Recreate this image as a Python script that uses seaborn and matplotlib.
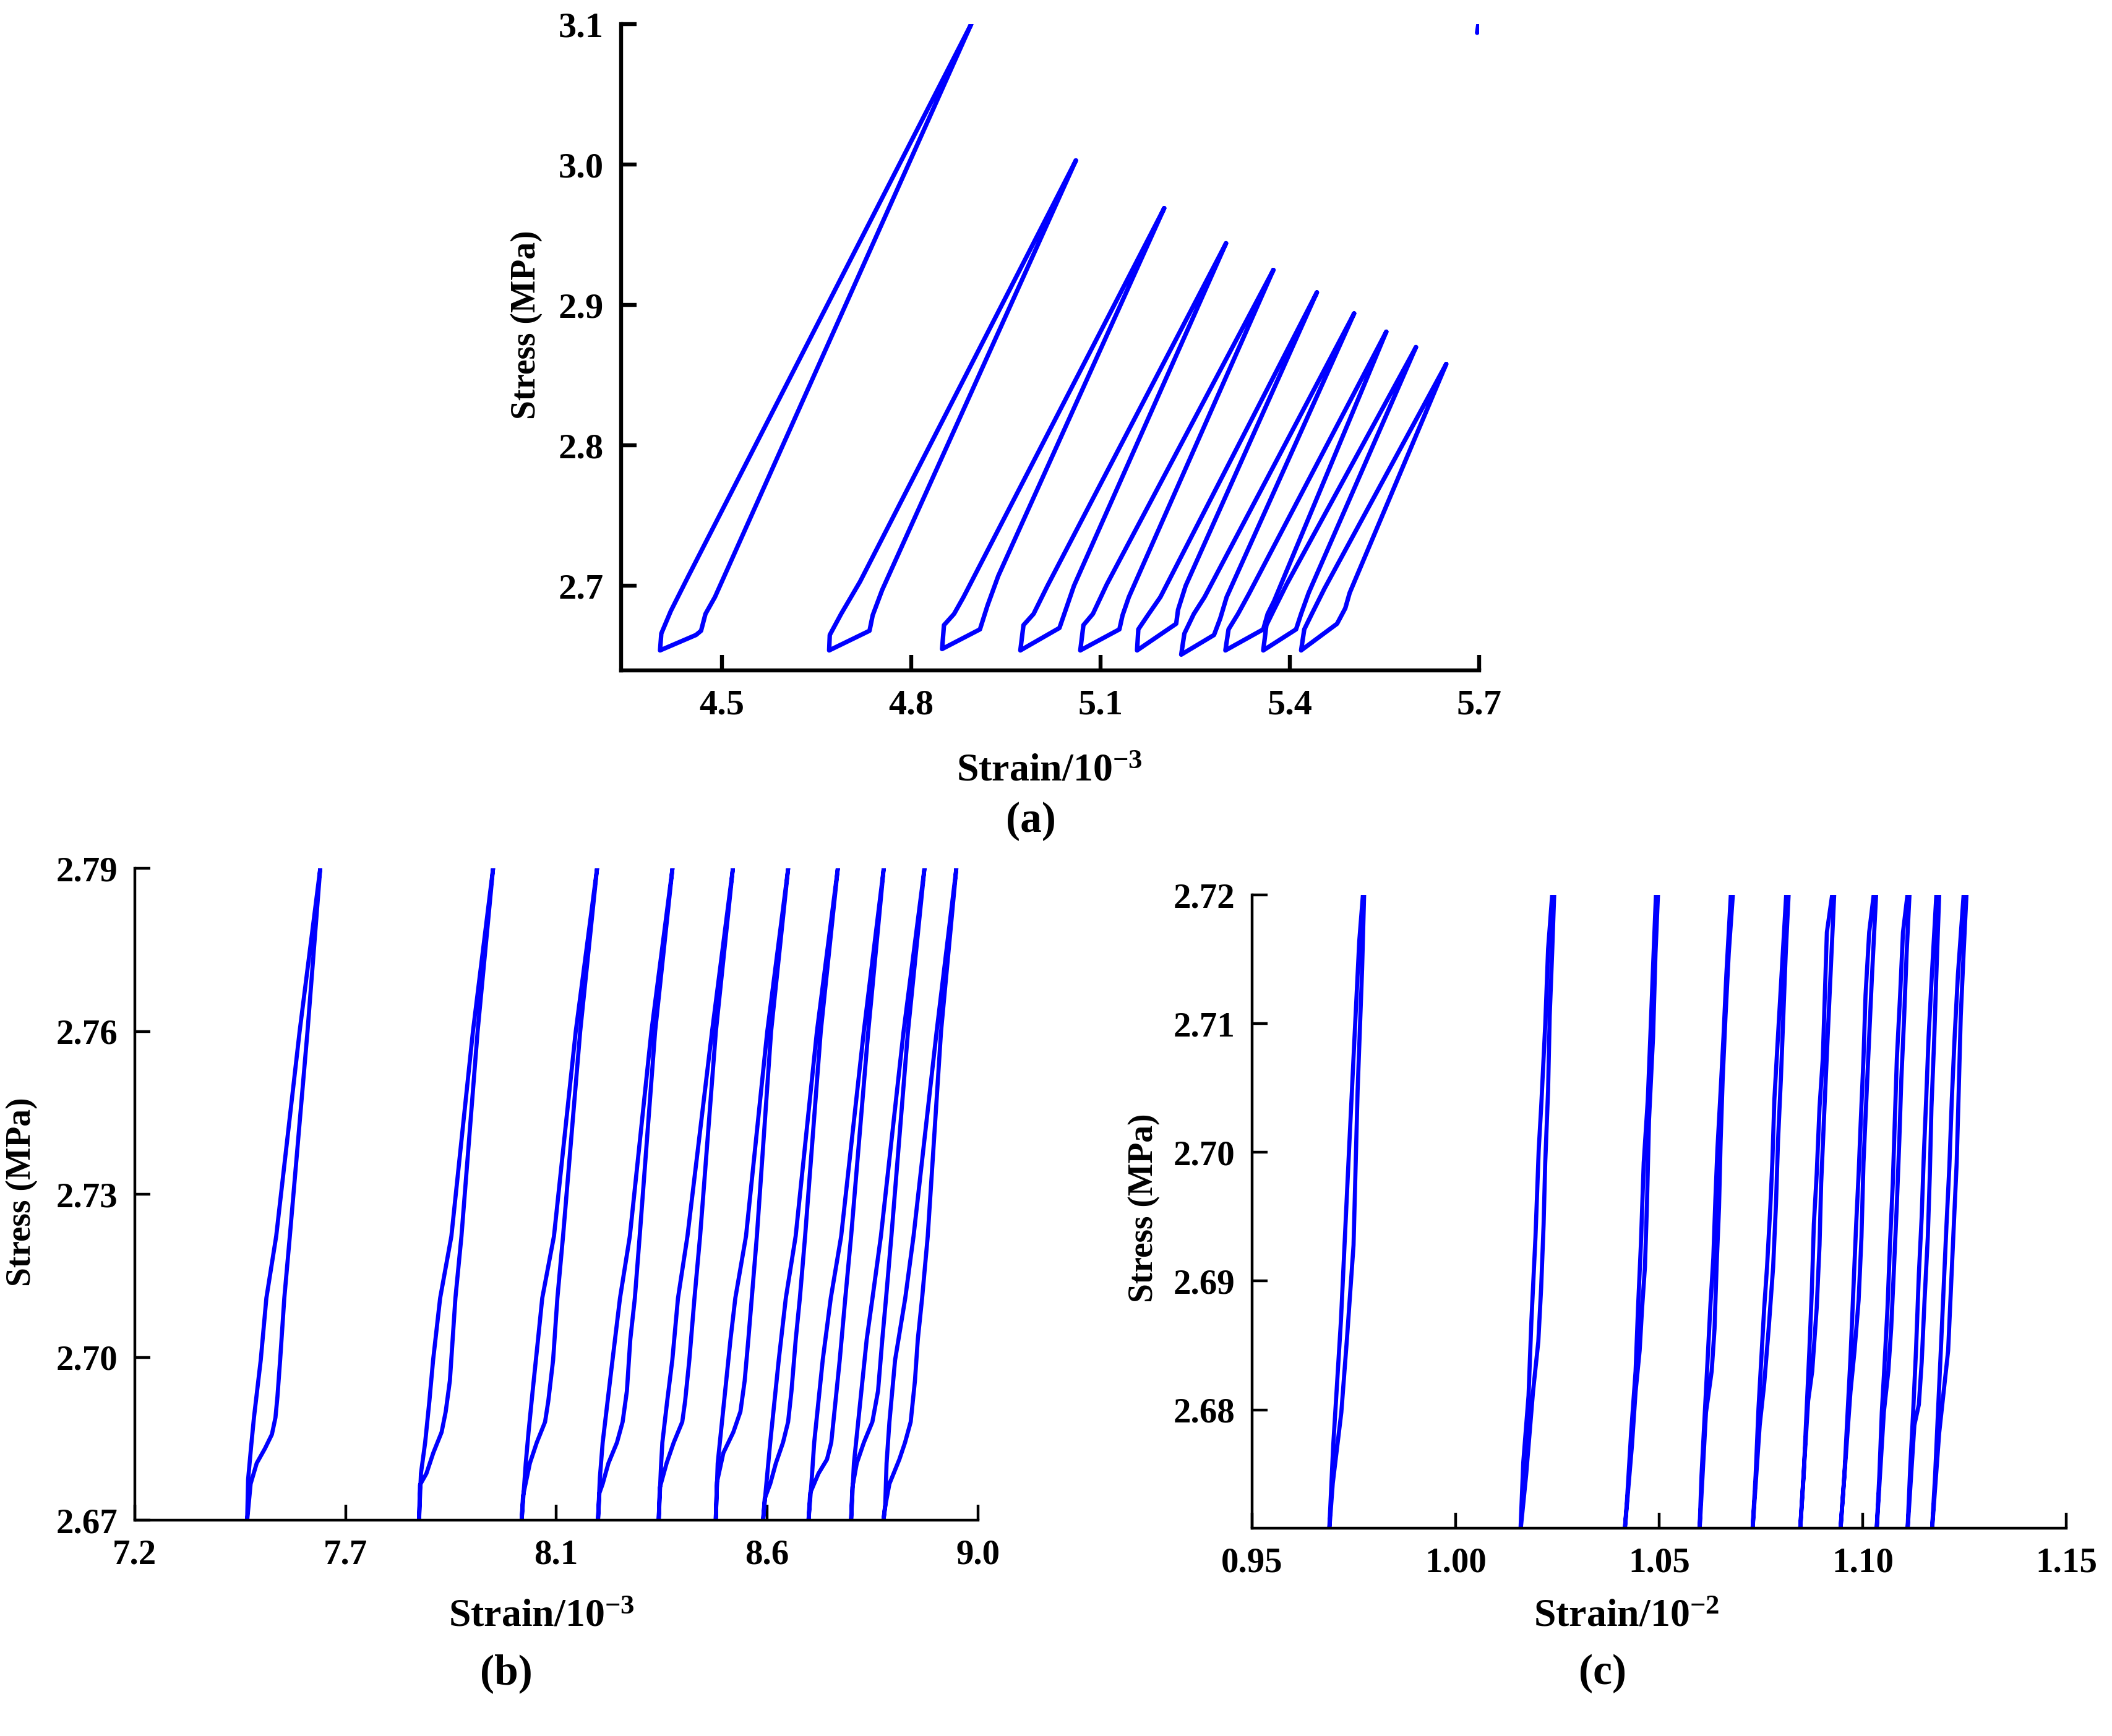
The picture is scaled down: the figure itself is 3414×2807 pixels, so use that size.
import numpy as np
import pandas as pd
import matplotlib
matplotlib.use("Agg")
import matplotlib.pyplot as plt
import seaborn as sns

# ---------------- data ----------------
# Panel (a): strain (10^-3) / stress (MPa), one list per cycle
a_loop_x = [
    [4.895, 4.447, 4.419, 4.404, 4.402, 4.459, 4.467, 4.474, 4.489, 4.895],
    [5.061, 4.719, 4.689, 4.671, 4.670, 4.734, 4.739, 4.754, 5.061],
    [5.201, 4.883, 4.868, 4.852, 4.849, 4.909, 4.921, 4.938, 5.201],
    [5.299, 5.016, 4.994, 4.978, 4.973, 5.035, 5.045, 5.058, 5.299],
    [5.374, 5.110, 5.088, 5.073, 5.068, 5.130, 5.135, 5.145, 5.374],
    [5.443, 5.195, 5.175, 5.160, 5.158, 5.220, 5.223, 5.235, 5.443],
    [5.502, 5.265, 5.248, 5.233, 5.228, 5.280, 5.290, 5.300, 5.502],
    [5.553, 5.335, 5.318, 5.303, 5.298, 5.358, 5.365, 5.375, 5.553],
    [5.600, 5.395, 5.375, 5.363, 5.358, 5.410, 5.418, 5.430, 5.600],
    [5.648, 5.455, 5.435, 5.423, 5.418, 5.475, 5.488, 5.495, 5.648],
    [5.697, 5.699],
]
a_loop_y = [
    [3.100, 2.707, 2.682, 2.666, 2.654, 2.665, 2.668, 2.680, 2.692, 3.100],
    [3.003, 2.703, 2.680, 2.665, 2.654, 2.668, 2.679, 2.697, 3.003],
    [2.969, 2.692, 2.680, 2.672, 2.655, 2.669, 2.686, 2.707, 2.969],
    [2.944, 2.700, 2.680, 2.672, 2.654, 2.670, 2.683, 2.700, 2.944],
    [2.925, 2.701, 2.680, 2.672, 2.654, 2.669, 2.679, 2.692, 2.925],
    [2.909, 2.692, 2.679, 2.669, 2.654, 2.673, 2.683, 2.700, 2.909],
    [2.894, 2.692, 2.680, 2.666, 2.651, 2.665, 2.677, 2.692, 2.894],
    [2.881, 2.694, 2.680, 2.669, 2.654, 2.669, 2.680, 2.689, 2.881],
    [2.870, 2.701, 2.683, 2.672, 2.654, 2.669, 2.680, 2.695, 2.870],
    [2.858, 2.698, 2.680, 2.669, 2.654, 2.673, 2.684, 2.695, 2.858],
    [3.094, 3.100],
]

# Panel (b): strain (10^-3) / stress (MPa)
b_loop_x = [
    [7.596, 7.552, 7.502, 7.481, 7.469, 7.4545, 7.4486, 7.442, 7.440, 7.4474, 7.4604, 7.478, 7.4928, 7.5004, 7.5046, 7.5104, 7.5193, 7.5311, 7.5688, 7.596],
    [7.965, 7.922, 7.876, 7.852, 7.837, 7.829, 7.820, 7.811, 7.807, 7.809, 7.8227, 7.8374, 7.8551, 7.8639, 7.8728, 7.8787, 7.8846, 7.8975, 7.932, 7.965],
    [8.187, 8.1415, 8.095, 8.070, 8.061, 8.0495, 8.0407, 8.0348, 8.026, 8.029, 8.0436, 8.0583, 8.0760, 8.083, 8.0932, 8.1023, 8.1144, 8.151, 8.187],
    [8.348, 8.303, 8.257, 8.236, 8.220, 8.2095, 8.199, 8.193, 8.189, 8.192, 8.199, 8.2113, 8.2295, 8.2416, 8.2507, 8.258, 8.2677, 8.278, 8.311, 8.348],
    [8.477, 8.4325, 8.380, 8.3598, 8.3477, 8.3367, 8.3264, 8.3234, 8.3186, 8.321, 8.3355, 8.3507, 8.3689, 8.375, 8.384, 8.395, 8.407, 8.4407, 8.477],
    [8.595, 8.5504, 8.505, 8.4822, 8.4719, 8.4628, 8.4537, 8.4446, 8.4404, 8.443, 8.4567, 8.4779, 8.4931, 8.5022, 8.5100, 8.5173, 8.5282, 8.5586, 8.595],
    [8.701, 8.6564, 8.611, 8.590, 8.5749, 8.5658, 8.5567, 8.5476, 8.5415, 8.545, 8.5567, 8.5688, 8.584, 8.5949, 8.6021, 8.6112, 8.620, 8.6312, 8.6646, 8.701],
    [8.799, 8.7565, 8.7082, 8.686, 8.6688, 8.6597, 8.6506, 8.6446, 8.6385, 8.642, 8.6597, 8.6779, 8.687, 8.6961, 8.7051, 8.717, 8.7294, 8.766, 8.799],
    [8.886, 8.8414, 8.793, 8.775, 8.7627, 8.7536, 8.7445, 8.7354, 8.7294, 8.732, 8.7415, 8.7566, 8.7748, 8.7869, 8.796, 8.804, 8.8154, 8.8508, 8.886],
    [8.954, 8.912, 8.8627, 8.845, 8.8233, 8.8112, 8.8051, 8.8021, 8.7985, 8.801, 8.8112, 8.8324, 8.8445, 8.8566, 8.8657, 8.8718, 8.881, 8.893, 8.9214, 8.954],
]
b_loop_y = [
    [2.79, 2.76, 2.7223, 2.7109, 2.6995, 2.6889, 2.6837, 2.6775, 2.67, 2.6767, 2.6805, 2.6832, 2.6858, 2.6889, 2.6927, 2.6995, 2.7109, 2.7223, 2.76, 2.79],
    [2.79, 2.76, 2.7223, 2.7109, 2.6995, 2.6919, 2.6843, 2.6786, 2.67, 2.6765, 2.6786, 2.6824, 2.6862, 2.6900, 2.6957, 2.7033, 2.7109, 2.7223, 2.76, 2.79],
    [2.79, 2.76, 2.7223, 2.7109, 2.7033, 2.6938, 2.6862, 2.6805, 2.67, 2.6745, 2.6805, 2.6843, 2.6881, 2.692, 2.6995, 2.7109, 2.7223, 2.76, 2.79],
    [2.79, 2.76, 2.7223, 2.7109, 2.6995, 2.6919, 2.6843, 2.6778, 2.67, 2.675, 2.6767, 2.6805, 2.6843, 2.6881, 2.6938, 2.7033, 2.7109, 2.7223, 2.76, 2.79],
    [2.79, 2.76, 2.7223, 2.7109, 2.6995, 2.6919, 2.6843, 2.6797, 2.67, 2.676, 2.6805, 2.6843, 2.6881, 2.6919, 2.6995, 2.7109, 2.7223, 2.76, 2.79],
    [2.79, 2.76, 2.7223, 2.7109, 2.7033, 2.6957, 2.6881, 2.6805, 2.67, 2.677, 2.6824, 2.6862, 2.6900, 2.6957, 2.7033, 2.7109, 2.7223, 2.76, 2.79],
    [2.79, 2.76, 2.7223, 2.7109, 2.6995, 2.6919, 2.6843, 2.6759, 2.67, 2.674, 2.6767, 2.6805, 2.6843, 2.6881, 2.6938, 2.7033, 2.7109, 2.7223, 2.76, 2.79],
    [2.79, 2.76, 2.7223, 2.7109, 2.6995, 2.6919, 2.6843, 2.6767, 2.67, 2.675, 2.6786, 2.6812, 2.6843, 2.6919, 2.6995, 2.7109, 2.7223, 2.76, 2.79],
    [2.79, 2.76, 2.7223, 2.7109, 2.7033, 2.6957, 2.6881, 2.6805, 2.67, 2.676, 2.6805, 2.6843, 2.6881, 2.6938, 2.7033, 2.7109, 2.7223, 2.76, 2.79],
    [2.79, 2.76, 2.7223, 2.7109, 2.6995, 2.6881, 2.6805, 2.6724, 2.67, 2.672, 2.6767, 2.6812, 2.6843, 2.6881, 2.6957, 2.7033, 2.7109, 2.7223, 2.76, 2.79],
]

# Panel (c): strain (10^-2) / stress (MPa)
c_loop_x = [
    [0.9772, 0.9763, 0.9749, 0.9736, 0.9718, 0.9699, 0.9689, 0.9698, 0.9719, 0.9733, 0.9749, 0.9759, 0.9770, 0.9775],
    [1.0237, 1.0227, 1.0220, 1.0210, 1.0204, 1.0196, 1.0186, 1.0179, 1.0166, 1.0159, 1.0173, 1.0190, 1.0203, 1.0210, 1.0216, 1.0220, 1.0227, 1.0231, 1.0237, 1.0242],
    [1.0492, 1.0485, 1.0479, 1.0472, 1.0462, 1.0455, 1.0448, 1.0442, 1.0431, 1.0421, 1.0415, 1.0433, 1.0442, 1.0452, 1.0458, 1.0465, 1.0470, 1.0475, 1.0485, 1.0491, 1.0497],
    [1.0676, 1.0665, 1.0658, 1.0651, 1.0643, 1.0638, 1.0633, 1.0626, 1.0618, 1.0611, 1.0604, 1.0599, 1.0615, 1.0629, 1.0636, 1.0641, 1.0647, 1.0651, 1.0656, 1.0663, 1.0671, 1.0681],
    [1.0812, 1.0799, 1.0790, 1.0783, 1.0778, 1.0773, 1.0765, 1.0758, 1.0751, 1.0744, 1.0737, 1.0729, 1.0747, 1.0758, 1.0769, 1.0780, 1.0787, 1.0792, 1.0799, 1.0805, 1.0811, 1.0818],
    [1.0925, 1.0912, 1.0907, 1.0902, 1.0894, 1.0887, 1.0880, 1.0875, 1.0869, 1.0862, 1.0855, 1.0846, 1.0866, 1.0876, 1.0887, 1.0894, 1.0898, 1.0907, 1.0914, 1.0921, 1.0930],
    [1.1027, 1.1016, 1.1007, 1.1002, 1.0995, 1.0990, 1.0984, 1.0977, 1.0970, 1.0963, 1.0955, 1.0945, 1.0970, 1.0980, 1.0990, 1.0997, 1.1002, 1.1009, 1.1016, 1.1023, 1.1033],
    [1.1110, 1.1099, 1.1092, 1.1084, 1.1079, 1.1074, 1.1067, 1.1061, 1.1054, 1.1047, 1.1041, 1.1034, 1.1052, 1.1063, 1.1070, 1.1077, 1.1084, 1.1090, 1.1095, 1.1102, 1.1108, 1.1115],
    [1.1181, 1.1170, 1.1162, 1.1156, 1.1150, 1.1145, 1.1138, 1.1131, 1.1124, 1.1117, 1.1110, 1.1127, 1.1138, 1.1145, 1.1152, 1.1160, 1.1165, 1.1169, 1.1176, 1.1181, 1.1188],
    [1.1248, 1.1234, 1.1226, 1.1219, 1.1213, 1.1206, 1.1199, 1.1192, 1.1185, 1.1178, 1.1170, 1.1188, 1.1199, 1.1210, 1.1217, 1.1224, 1.1231, 1.1236, 1.1241, 1.1248, 1.1255],
]
c_loop_y = [
    [2.7200, 2.7164, 2.7074, 2.6989, 2.6869, 2.6772, 2.6705, 2.6743, 2.6798, 2.6856, 2.6928, 2.7048, 2.7142, 2.7200],
    [2.7200, 2.7158, 2.7099, 2.7035, 2.7002, 2.6934, 2.6869, 2.6811, 2.6759, 2.6705, 2.6749, 2.6814, 2.6853, 2.6895, 2.6944, 2.6992, 2.7048, 2.7106, 2.7155, 2.7200],
    [2.7200, 2.7145, 2.7096, 2.7041, 2.6992, 2.6928, 2.6879, 2.6830, 2.6782, 2.6730, 2.6705, 2.6772, 2.6814, 2.6846, 2.6879, 2.6911, 2.6960, 2.7025, 2.7090, 2.7155, 2.7200],
    [2.7200, 2.7138, 2.7090, 2.7048, 2.7002, 2.6963, 2.6918, 2.6882, 2.6833, 2.6791, 2.6749, 2.6705, 2.6798, 2.6830, 2.6863, 2.6911, 2.6957, 2.7009, 2.7057, 2.7106, 2.7155, 2.7200],
    [2.7200, 2.7129, 2.7080, 2.7041, 2.6992, 2.6957, 2.6911, 2.6879, 2.6840, 2.6801, 2.6749, 2.6705, 2.6788, 2.6820, 2.6863, 2.6911, 2.6960, 2.7009, 2.7057, 2.7106, 2.7155, 2.7200],
    [2.7200, 2.7171, 2.7122, 2.7073, 2.7035, 2.6983, 2.6944, 2.6892, 2.6846, 2.6798, 2.6749, 2.6705, 2.6807, 2.6830, 2.6879, 2.6928, 2.6976, 2.7041, 2.7090, 2.7138, 2.7200],
    [2.7200, 2.7171, 2.7122, 2.7073, 2.7022, 2.6983, 2.6944, 2.6892, 2.6840, 2.6798, 2.6749, 2.6705, 2.6814, 2.6846, 2.6885, 2.6934, 2.6992, 2.7041, 2.7090, 2.7138, 2.7200],
    [2.7200, 2.7171, 2.7122, 2.7073, 2.7025, 2.6976, 2.6928, 2.6879, 2.6837, 2.6798, 2.6749, 2.6705, 2.6798, 2.6830, 2.6863, 2.6911, 2.6960, 2.7009, 2.7057, 2.7106, 2.7155, 2.7200],
    [2.7200, 2.7138, 2.7090, 2.7041, 2.6996, 2.6950, 2.6905, 2.6846, 2.6798, 2.6756, 2.6705, 2.6788, 2.6804, 2.6837, 2.6885, 2.6934, 2.6983, 2.7035, 2.7090, 2.7138, 2.7200],
    [2.7200, 2.7138, 2.7090, 2.7041, 2.6989, 2.6944, 2.6895, 2.6846, 2.6798, 2.6749, 2.6705, 2.6782, 2.6814, 2.6846, 2.6895, 2.6944, 2.6992, 2.7048, 2.7106, 2.7155, 2.7200],
]

# axis ticks / labels
a_xticks = [4.5, 4.8, 5.1, 5.4, 5.7]
a_xticklabels = ["4.5", "4.8", "5.1", "5.4", "5.7"]
a_yticks = [2.7, 2.8, 2.9, 3.0, 3.1]
a_yticklabels = ["2.7", "2.8", "2.9", "3.0", "3.1"]
b_xticks = [7.2, 7.65, 8.1, 8.55, 9.0]
b_xticklabels = ["7.2", "7.7", "8.1", "8.6", "9.0"]
b_yticks = [2.67, 2.70, 2.73, 2.76, 2.79]
b_yticklabels = ["2.67", "2.70", "2.73", "2.76", "2.79"]
c_xticks = [0.95, 1.00, 1.05, 1.10, 1.15]
c_xticklabels = ["0.95", "1.00", "1.05", "1.10", "1.15"]
c_yticks = [2.68, 2.69, 2.70, 2.71, 2.72]
c_yticklabels = ["2.68", "2.69", "2.70", "2.71", "2.72"]

# ---------------- style ----------------
sns.set_theme(style="ticks")
plt.rcParams["font.family"] = ["Liberation Serif", "DejaVu Serif"]
plt.rcParams["font.weight"] = "bold"
plt.rcParams["mathtext.fontset"] = "custom"
plt.rcParams["mathtext.rm"] = "Liberation Serif:bold"
plt.rcParams["mathtext.bf"] = "Liberation Serif:bold"
plt.rcParams["mathtext.it"] = "Liberation Serif:bold:italic"
plt.rcParams["axes.edgecolor"] = "black"
plt.rcParams["xtick.color"] = "black"
plt.rcParams["ytick.color"] = "black"
plt.rcParams["text.color"] = "black"

BLUE = "#0000FF"


def to_frame(xs, ys):
    rows = []
    for i, (lx, ly) in enumerate(zip(xs, ys)):
        for x, y in zip(lx, ly):
            rows.append((i, x, y))
    return pd.DataFrame(rows, columns=["loop", "strain", "stress"])


fig = plt.figure(figsize=(17.07, 14.035), dpi=200)

ax_a = fig.add_axes([0.2940, 0.6137, 0.4063, 0.3723])
ax_b = fig.add_axes([0.0638, 0.1243, 0.3992, 0.3754])
ax_c = fig.add_axes([0.5929, 0.1197, 0.3854, 0.3648])

panels = [
    (ax_a, a_loop_x, a_loop_y, (4.34, 5.7), (2.6396, 3.1), a_xticks, a_xticklabels,
     a_yticks, a_yticklabels, 2.3, 21, 2.6),
    (ax_b, b_loop_x, b_loop_y, (7.2, 9.0), (2.67, 2.79), b_xticks, b_xticklabels,
     b_yticks, b_yticklabels, 1.6, 20.5, 2.4),
    (ax_c, c_loop_x, c_loop_y, (0.95, 1.15), (2.6708, 2.72), c_xticks, c_xticklabels,
     c_yticks, c_yticklabels, 1.6, 20.5, 2.4),
]

for ax, lx, ly, xl, yl, xt, xtl, yt, ytl, spw, fs, lw in panels:
    df = to_frame(lx, ly)
    sns.lineplot(data=df, x="strain", y="stress", units="loop", estimator=None,
                 sort=False, color=BLUE, linewidth=lw, ax=ax, legend=False)
    ax.set_xlim(*xl)
    ax.set_ylim(*yl)
    ax.set_xticks(xt)
    ax.set_xticklabels(xtl)
    ax.set_yticks(yt)
    ax.set_yticklabels(ytl)
    ax.set_xlabel("")
    ax.set_ylabel("")
    for s in ["top", "right"]:
        ax.spines[s].set_visible(False)
    for s in ["left", "bottom"]:
        ax.spines[s].set_linewidth(spw)
        ax.spines[s].set_color("black")
    ax.tick_params(axis="both", direction="in", length=9, width=spw,
                   labelsize=fs)
    ax.tick_params(axis="x", pad=11)
    ax.tick_params(axis="y", pad=10)
    for lab in ax.get_xticklabels() + ax.get_yticklabels():
        lab.set_fontweight("bold")
    ax.set_facecolor("white")

# axis titles and panel letters
fig.text(0.4968, 0.5501, r"Strain/10$^{-3}$", ha="center", va="baseline",
         fontsize=23, fontweight="bold")
fig.text(0.2494, 0.8130, "Stress (MPa)", ha="center", va="center",
         rotation=90, fontsize=20, fontweight="bold")
fig.text(0.4880, 0.5269, "(a)", ha="center", va="center", fontsize=25,
         fontweight="bold")

fig.text(0.2563, 0.0631, r"Strain/10$^{-3}$", ha="center", va="baseline",
         fontsize=23, fontweight="bold")
fig.text(0.0102, 0.3135, "Stress (MPa)", ha="center", va="center",
         rotation=90, fontsize=20, fontweight="bold")
fig.text(0.2398, 0.0360, "(b)", ha="center", va="center", fontsize=25,
         fontweight="bold")

fig.text(0.7701, 0.0631, r"Strain/10$^{-2}$", ha="center", va="baseline",
         fontsize=23, fontweight="bold")
fig.text(0.5415, 0.3042, "Stress (MPa)", ha="center", va="center",
         rotation=90, fontsize=20, fontweight="bold")
fig.text(0.7589, 0.0360, "(c)", ha="center", va="center", fontsize=25,
         fontweight="bold")

fig.savefig("out.png", dpi=200, facecolor="white")
